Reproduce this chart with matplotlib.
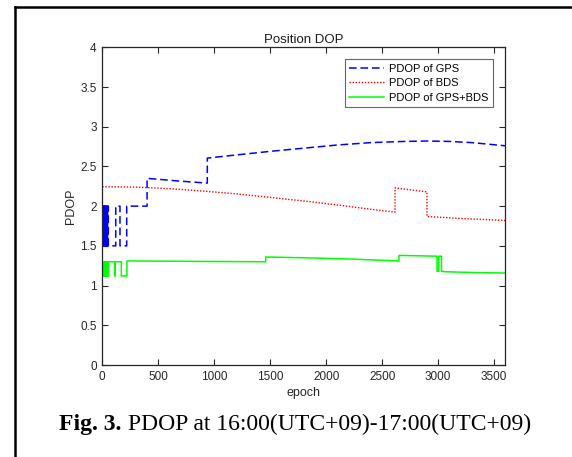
import matplotlib
matplotlib.use('Agg')

import matplotlib.pyplot as plt
from matplotlib.lines import Line2D

# ---- data (epoch, PDOP); repeated epochs = jumps ----
gps_epoch = [0, 5, 5, 9, 9, 14, 14, 18, 18, 23, 23, 27, 27, 32, 32, 37, 37,
             42, 42, 47, 47, 54, 54, 120, 120, 158, 158, 218, 218, 400, 400,
             650, 938, 938, 1200, 1500, 1800, 2100, 2400, 2700, 2900, 3100,
             3300, 3600]
gps_pdop = [2.0, 2.0, 1.5, 1.5, 2.0, 2.0, 1.5, 1.5, 2.0, 2.0, 1.5, 1.5, 2.0,
            2.0, 1.5, 1.5, 2.0, 2.0, 1.5, 1.5, 2.0, 2.0, 1.5, 1.5, 2.0, 2.0,
            1.5, 1.5, 2.0, 2.0, 2.35, 2.32, 2.29, 2.605, 2.645, 2.69, 2.73,
            2.77, 2.80, 2.815, 2.82, 2.815, 2.80, 2.76]

bds_epoch = [0, 300, 600, 900, 1200, 1500, 1800, 2100, 2400, 2615, 2615,
             2900, 2900, 3200, 3600]
bds_pdop = [2.245, 2.24, 2.22, 2.19, 2.155, 2.11, 2.065, 2.015, 1.96, 1.925,
            2.23, 2.18, 1.87, 1.845, 1.82]

mix_epoch = [0, 5, 5, 9, 9, 14, 14, 18, 18, 23, 23, 27, 27, 32, 32, 37, 37,
             42, 42, 47, 47, 55, 55, 110, 110, 113, 113, 170, 170, 220, 220,
             800, 1460, 1460, 1800, 2200, 2650, 2650, 2990, 2990, 3005, 3005,
             3030, 3030, 3045, 3045, 3300, 3600]
mix_pdop = [1.12, 1.12, 1.3, 1.3, 1.12, 1.12, 1.3, 1.3, 1.12, 1.12, 1.3, 1.3,
            1.12, 1.12, 1.3, 1.3, 1.12, 1.12, 1.3, 1.3, 1.12, 1.12, 1.3, 1.3,
            1.12, 1.12, 1.3, 1.3, 1.12, 1.12, 1.31, 1.305, 1.30, 1.36, 1.35,
            1.335, 1.31, 1.38, 1.37, 1.18, 1.18, 1.37, 1.37, 1.18, 1.18,
            1.175, 1.165, 1.158]

x_ticks = [0, 500, 1000, 1500, 2000, 2500, 3000, 3500]
y_ticks = [0, 0.5, 1, 1.5, 2, 2.5, 3, 3.5, 4]

W, H = 572, 457
fig = plt.figure(figsize=(W / 100, H / 100), dpi=100)
plt.rcParams['font.family'] = 'Liberation Sans'

ax = fig.add_axes([102.3 / W, 1 - 365 / H, 403 / W, 317.7 / H])

ax.plot(gps_epoch, gps_pdop, color='#0000ff', lw=1.1,
        linestyle=(0, (5, 2.5)), label='PDOP of GPS')
ax.plot(bds_epoch, bds_pdop, color='#ff0000', lw=1.0,
        linestyle=(0, (1, 1.2)), label='PDOP of BDS')
ax.plot(mix_epoch, mix_pdop, color='#00ff00', lw=1.1, label='PDOP of GPS+BDS')

ax.set_xlim(0, 3600)
ax.set_ylim(0, 4)
ax.set_xticks(x_ticks)
ax.set_yticks(y_ticks)
ax.set_yticklabels(['0', '0.5', '1', '1.5', '2', '2.5', '3', '3.5', '4'])

ax.tick_params(direction='in', top=True, right=True, length=4, width=0.8,
               labelsize=8.5, colors='0.15', pad=4)
for sp in ax.spines.values():
    sp.set_linewidth(0.9)
    sp.set_color('0.15')

ax.set_title('Position DOP', fontsize=9.5, color='0.1', pad=3)
ax.set_xlabel('epoch', fontsize=9, color='0.15', labelpad=3)
ax.set_ylabel('PDOP', fontsize=9, color='0.15', labelpad=2.5)

leg = ax.legend(loc='upper right', bbox_to_anchor=(0.9695, 0.9622),
                borderaxespad=0, fontsize=8, fancybox=False, framealpha=1,
                edgecolor='0.4', handlelength=3.1, handletextpad=0.5,
                labelspacing=0.4, borderpad=0.4)
leg.get_frame().set_linewidth(0.8)

# page frame around the figure
fig.add_artist(Line2D([14.7 / W, 14.7 / W], [0, 1 - 7.3 / H], color='black',
                      lw=1.8, transform=fig.transFigure))
fig.add_artist(Line2D([14.7 / W, 1], [1 - 7.3 / H, 1 - 7.3 / H], color='black',
                      lw=1.8, transform=fig.transFigure))

# caption: bold "Fig. 3." then regular text
cap_y = 1 - 430 / H
t1 = fig.text(58.7 / W, cap_y, 'Fig. 3.', fontsize=17, fontweight='bold',
              family='Liberation Serif', va='baseline', ha='left')
r = fig.canvas.get_renderer()
ext = t1.get_window_extent(renderer=r)
fig.text((ext.x1 + 6.6) / W, cap_y, 'PDOP at 16:00(UTC+09)-17:00(UTC+09)',
         fontsize=17, family='Liberation Serif', va='baseline', ha='left')

fig.savefig('out.png', dpi=100, facecolor='white')
